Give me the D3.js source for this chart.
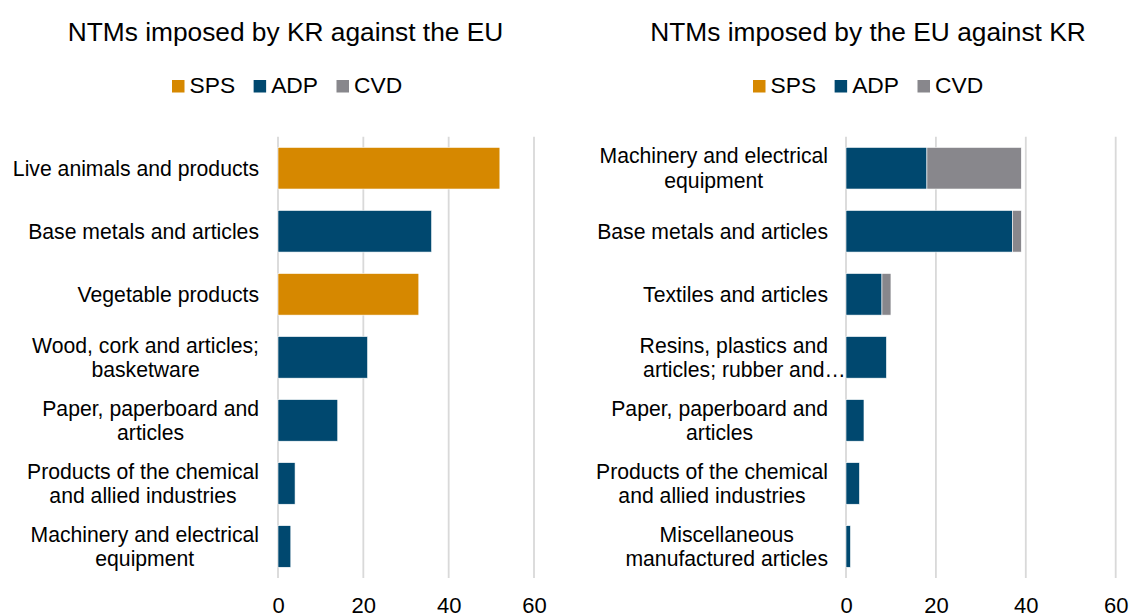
<!DOCTYPE html>
<html>
<head>
<meta charset="utf-8">
<script src="https://cdn.jsdelivr.net/npm/d3@7"></script>
<style>
  html, body { margin: 0; padding: 0; background: #fff; }
  svg { display: block; font-family: "Liberation Sans", Arial, sans-serif; }
</style>
</head>
<body>
<svg id="chart" width="1131" height="615"></svg>
<script>
// ---- Data ----
const seriesNames = ["SPS", "ADP", "CVD"];
const seriesColors = ["#D68800", "#00486F", "#88878C"];
const tickValues = [0, 20, 40, 60];

const leftTitle = "NTMs imposed by KR against the EU";
const leftCategories = [
  ["Live animals and products"],
  ["Base metals and articles"],
  ["Vegetable products"],
  ["Wood, cork and articles;", "basketware"],
  ["Paper, paperboard and", "articles"],
  ["Products of the chemical", "and allied industries"],
  ["Machinery and electrical", "equipment"]
];
const leftSPS = [52, 0, 33, 0, 0, 0, 0];
const leftADP = [0, 36, 0, 21, 14, 4, 3];
const leftCVD = [0, 0, 0, 0, 0, 0, 0];

const rightTitle = "NTMs imposed by the EU against KR";
const rightCategories = [
  ["Machinery and electrical", "equipment"],
  ["Base metals and articles"],
  ["Textiles and articles"],
  ["Resins, plastics and", "articles; rubber and…"],
  ["Paper, paperboard and", "articles"],
  ["Products of the chemical", "and allied industries"],
  ["Miscellaneous", "manufactured articles"]
];
const rightSPS = [0, 0, 0, 0, 0, 0, 0];
const rightADP = [18, 37, 8, 9, 4, 3, 1];
const rightCVD = [21, 2, 2, 0, 0, 0, 0];

// ---- Drawing ----
const svg = d3.select("#chart");

function textWidth(str, size) {
  const t = svg.append("text").attr("font-size", size).text(str);
  const w = t.node().getComputedTextLength();
  t.remove();
  return w;
}

function panel(opts) {
  const { title, cats, sps, adp, cvd, x0, x1, labelRight, titleX, legendX } = opts;
  const g = svg.append("g");
  const rows = cats.map((c, i) => ({ key: i, lines: c, SPS: sps[i], ADP: adp[i], CVD: cvd[i] }));
  const x = d3.scaleLinear().domain([0, 60]).range([x0, x1]);
  const y = d3.scaleBand().domain(rows.map(d => d.key)).range([136.7, 578])
    .paddingInner(0.34).paddingOuter(0.17);

  // gridlines
  g.append("g").selectAll("line").data(tickValues).join("line")
    .attr("x1", d => x(d)).attr("x2", d => x(d))
    .attr("y1", 136.7).attr("y2", 578)
    .attr("stroke", "#d9d9d9").attr("stroke-width", 1.8);

  // tick labels via axis
  const ax = g.append("g").attr("transform", "translate(0,578)")
    .call(d3.axisBottom(x).tickValues(tickValues).tickSize(0).tickPadding(0).tickFormat(d3.format("d")));
  ax.select(".domain").remove();
  ax.selectAll("text").attr("font-size", 22).attr("fill", "#000")
    .attr("font-family", "Liberation Sans, Arial, sans-serif")
    .attr("dy", null).attr("y", 34.5);

  // bars
  const stack = d3.stack().keys(seriesNames)(rows);
  g.append("g").selectAll("g").data(stack).join("g")
    .attr("fill", (d, i) => seriesColors[i])
    .selectAll("rect").data(d => d.filter(p => p[1] - p[0] > 0)).join("rect")
    .attr("x", d => x(d[0])).attr("width", d => x(d[1]) - x(d[0]))
    .attr("y", d => y(d.data.key)).attr("height", y.bandwidth())
    .attr("stroke", "#ffffff").attr("stroke-width", 0.6);

  // category labels (lines centred on a shared axis; a trailing ellipsis overflows)
  const LS = 21.2;
  const lab = g.append("g").selectAll("text").data(rows).join("text")
    .attr("font-size", LS).attr("fill", "#000").attr("text-anchor", "start");
  lab.each(function(d) {
    const t = d3.select(this);
    const cy = y(d.key) + y.bandwidth() / 2;
    const n = d.lines.length;
    const core = d.lines.map(ln => ln.replace(/…$/, ""));
    const widths = core.map(s => textWidth(s, LS));
    const maxW = d3.max(widths);
    const cx = labelRight - maxW / 2;
    d.lines.forEach((ln, j) => {
      t.append("tspan")
        .attr("x", cx - widths[j] / 2)
        .attr("y", cy + (j - (n - 1) / 2) * 24.5).attr("dy", "0.35em").text(ln);
    });
  });

  // title
  g.append("text").attr("x", titleX).attr("y", 41).attr("text-anchor", "middle")
    .attr("font-size", 26.3).attr("fill", "#000").text(title);

  // legend
  const lg = g.append("g").attr("transform", `translate(${legendX},0)`);
  let cx = 0;
  seriesNames.forEach((s, i) => {
    lg.append("rect").attr("x", cx).attr("y", 80).attr("width", 12.5).attr("height", 12.5).attr("fill", seriesColors[i]);
    const tx = lg.append("text").attr("x", cx + 17.5).attr("y", 92.5).attr("font-size", 22.8).attr("fill", "#000").text(s);
    cx += 17.5 + tx.node().getComputedTextLength() + 18.5;
  });
}

panel({ title: leftTitle, cats: leftCategories, sps: leftSPS, adp: leftADP, cvd: leftCVD,
  x0: 278, x1: 534, labelRight: 259, titleX: 285.5, legendX: 172 });
panel({ title: rightTitle, cats: rightCategories, sps: rightSPS, adp: rightADP, cvd: rightCVD,
  x0: 846, x1: 1115.7, labelRight: 828, titleX: 868, legendX: 753 });
</script>
</body>
</html>
